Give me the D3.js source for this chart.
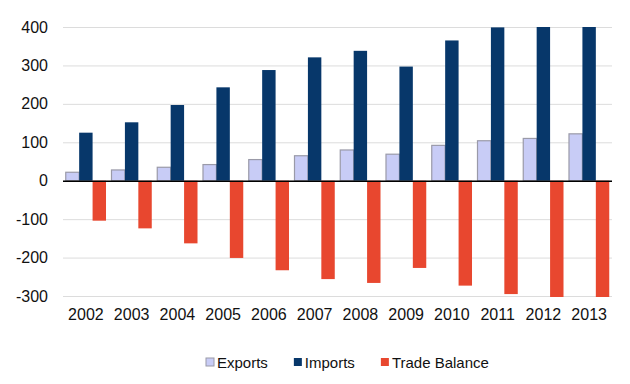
<!DOCTYPE html>
<html>
<head>
<meta charset="utf-8">
<script src="https://cdn.jsdelivr.net/npm/d3@7"></script>
<style>
  body { margin: 0; background: #fff; }
  text { font-family: "Liberation Sans", Arial, sans-serif; fill: #111; }
</style>
</head>
<body>
<script>
var margin = {top: 27, right: 18, bottom: 88, left: 63},
  width = 630 - margin.left - margin.right,
  height = 384 - margin.top - margin.bottom;

// data (US$ billions)
var years = ["2002","2003","2004","2005","2006","2007","2008","2009","2010","2011","2012","2013"];
var exportsVals = [22, 28, 35, 42, 55, 65, 80, 69, 92, 104, 110, 122];
var importsVals = [125, 152, 197, 243, 288, 321, 338, 297, 365, 399, 426, 440];
var balanceVals = [-104, -124, -163, -201, -233, -256, -266, -227, -273, -295, -315, -318];
var seriesNames = ["Exports", "Imports", "Trade Balance"];
var yTicks = [-300, -200, -100, 0, 100, 200, 300, 400];

var colors = {"Exports": "#c8ccf6", "Imports": "#07376a", "Trade Balance": "#e8472f"};

var rows = years.map(function(y, i) {
  return {year: y, values: [
    {key: "Exports", v: exportsVals[i]},
    {key: "Imports", v: importsVals[i]},
    {key: "Trade Balance", v: balanceVals[i]}
  ]};
});

var svg = d3.select("body").append("svg")
  .attr("width", width + margin.left + margin.right)
  .attr("height", height + margin.top + margin.bottom)
.append("g")
  .attr("transform", "translate(" + margin.left + "," + margin.top + ")");

var x = d3.scaleBand().domain(years).range([0, width]).paddingInner(0.12).paddingOuter(0.06);
var x1 = d3.scaleBand().domain(seriesNames).range([0, x.bandwidth()]).padding(0);
var y = d3.scaleLinear().domain([-300, 400]).range([height, 0]);

svg.append("clipPath").attr("id", "plot")
  .append("rect").attr("x", 0).attr("y", y(400)).attr("width", width).attr("height", y(-300) - y(400) + 1);

// gridlines
svg.selectAll("line.grid").data(yTicks).enter().append("line")
  .attr("class", "grid")
  .attr("x1", 0).attr("x2", width)
  .attr("y1", function(d) { return y(d) + 0.5; })
  .attr("y2", function(d) { return y(d) + 0.5; })
  .attr("stroke", "#dcdcdc")
  .attr("stroke-width", 1);

// y axis labels (plain hyphen for negatives)
var yAxis = d3.axisLeft(y).tickValues(yTicks).tickSize(0).tickPadding(15)
  .tickFormat(function(d) { return String(d); });
var yg = svg.append("g").call(yAxis);
yg.select(".domain").remove();
yg.selectAll("text").style("font-size", "16px").attr("fill", "#111");

// bars
var groups = svg.append("g").attr("clip-path", "url(#plot)")
  .selectAll("g").data(rows).enter().append("g")
  .attr("transform", function(d) { return "translate(" + x(d.year) + ",0)"; });

groups.selectAll("rect").data(function(d) { return d.values; }).enter().append("rect")
  .attr("x", function(d) { return x1(d.key); })
  .attr("width", x1.bandwidth())
  .attr("y", function(d) { return y(Math.max(0, d.v)); })
  .attr("height", function(d) { return Math.abs(y(d.v) - y(0)); })
  .attr("fill", function(d) { return colors[d.key]; })
  .attr("stroke", function(d) { return d.key == "Exports" ? "#9a9aa8" : "none"; })
  .attr("stroke-width", 1.2);

// zero line
svg.append("line")
  .attr("x1", 0).attr("x2", width)
  .attr("y1", y(0) + 0.5).attr("y2", y(0) + 0.5)
  .attr("stroke", "#000").attr("stroke-width", 1.5);

// x axis labels
var xAxis = d3.axisBottom(x).tickSize(0).tickPadding(13);
var xg = svg.append("g").attr("transform", "translate(0," + height + ")").call(xAxis);
xg.select(".domain").remove();
xg.selectAll("text").style("font-size", "16px").attr("fill", "#111");

// legend
var legend = svg.append("g").attr("transform", "translate(" + (206 - margin.left) + "," + (362 - margin.top) + ")");
var lx = 0;
seriesNames.forEach(function(name) {
  var item = legend.append("g").attr("transform", "translate(" + lx + ",0)");
  item.append("rect")
    .attr("x", 0).attr("y", -4).attr("width", 8).attr("height", 8)
    .attr("fill", colors[name])
    .attr("stroke", name == "Exports" ? "#9a9aa8" : "none");
  var t = item.append("text")
    .attr("x", 11).attr("y", 5.5)
    .style("font-size", "15px")
    .text(name);
  lx += 11 + t.node().getComputedTextLength() + 26;
});
</script>
</body>
</html>
